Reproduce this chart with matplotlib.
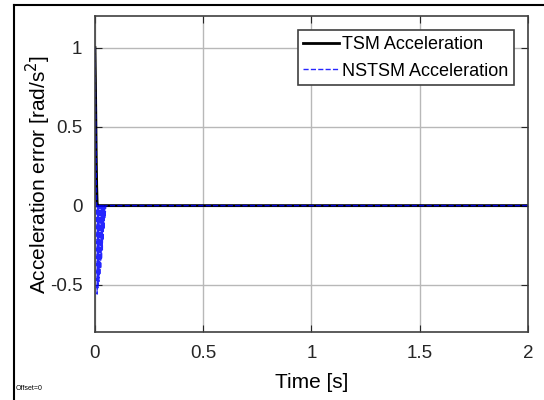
import matplotlib.pyplot as plt
from matplotlib.lines import Line2D

plt.rcParams['font.family'] = ['Liberation Sans', 'DejaVu Sans']

# TSM acceleration error: fast drop from 1 to 0
t_tsm = [0.0, 0.002, 0.004, 0.006, 0.008, 0.010, 0.012, 0.5, 1.0, 1.5, 2.0]
a_tsm = [1.0, 0.80, 0.55, 0.30, 0.12, 0.02, 0.0, 0.0, 0.0, 0.0, 0.0]

# NSTSM acceleration error: drop then chattering below zero
t_nstsm = [0.0, 0.003, 0.006, 0.008, 0.010, 0.012, 0.014, 0.016, 0.018, 0.020,
           0.022, 0.024, 0.026, 0.028, 0.030, 0.032, 0.034, 0.036, 0.038, 0.040,
           0.042, 0.044, 0.046, 0.050, 0.5, 1.0, 1.5, 2.0]
a_nstsm = [1.0, 0.60, 0.20, 0.0, -0.56, 0.0, -0.52, 0.0, -0.48, 0.0,
           -0.44, 0.0, -0.40, 0.0, -0.34, 0.0, -0.28, 0.0, -0.22, 0.0,
           -0.15, 0.0, -0.08, 0.0, 0.0, 0.0, 0.0, 0.0]

x_ticks = [0, 0.5, 1, 1.5, 2]
y_ticks = [-0.5, 0, 0.5, 1]

fig = plt.figure(figsize=(5.44, 4.0), dpi=100)
fig.patch.set_facecolor('white')
ax = fig.add_axes([0.1746, 0.17, 0.796, 0.79])

ax.plot(t_tsm, a_tsm, color='black', linewidth=2, label='TSM Acceleration')
ax.plot(t_nstsm, a_nstsm, color='blue', linestyle='--', linewidth=1.0,
        alpha=0.85, label='NSTSM Acceleration')

ax.set_xlim(0, 2)
ax.set_ylim(-0.8, 1.2)
ax.set_xticks(x_ticks)
ax.set_xticklabels(['0', '0.5', '1', '1.5', '2'])
ax.set_yticks(y_ticks)
ax.set_yticklabels(['-0.5', '0', '0.5', '1'])
ax.grid(True, color='#b8b8b8', linewidth=1)
ax.tick_params(labelsize=13.5, direction='in', length=5, colors='#262626',
               pad=9, top=True, right=True)
for s in ax.spines.values():
    s.set_color('#404040')
    s.set_linewidth(1.2)

ax.set_xlabel('Time [s]', fontsize=15, labelpad=8)
ax.set_ylabel('Acceleration error [rad/s$^2$]', fontsize=15, labelpad=-2)

leg = ax.legend(loc='upper right', fontsize=13, frameon=True, fancybox=False,
                handlelength=2.0, handletextpad=0.15, borderpad=0.3,
                labelspacing=0.55, borderaxespad=0.8)
leg.get_frame().set_edgecolor('#404040')
leg.get_frame().set_linewidth(1.2)
leg.get_frame().set_alpha(1)

# screenshot frame lines on top and left
fig.add_artist(Line2D([14 / 544, 1], [1 - 5 / 400, 1 - 5 / 400], color='black', linewidth=1.5))
fig.add_artist(Line2D([14 / 544, 14 / 544], [0, 1 - 5 / 400], color='black', linewidth=1.5))

fig.text(16 / 544, 1 - 389 / 400, 'Offset=0', fontsize=5, va='center')

plt.savefig('out.png', dpi=100)
